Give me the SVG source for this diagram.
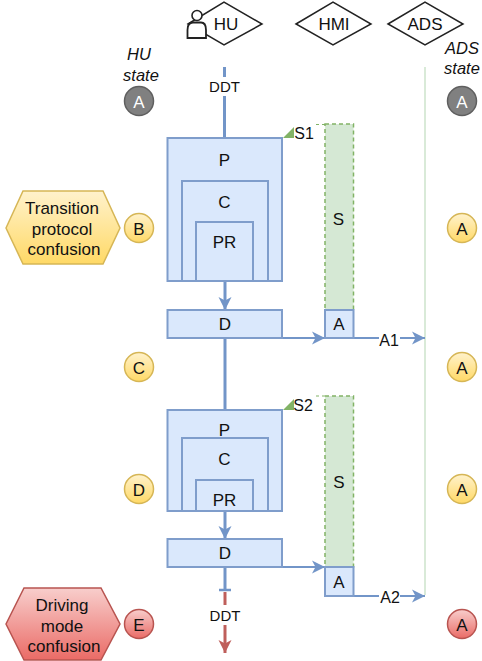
<svg xmlns="http://www.w3.org/2000/svg" width="482" height="661" viewBox="0 0 482 661">
<defs>
<linearGradient id="gy" x1="0" y1="0" x2="0" y2="1"><stop offset="0" stop-color="#fff2cc"/><stop offset="1" stop-color="#ffd966"/></linearGradient>
<linearGradient id="gr" x1="0" y1="0" x2="0" y2="1"><stop offset="0" stop-color="#f8cecc"/><stop offset="1" stop-color="#ea6b66"/></linearGradient>
<marker id="ab" markerUnits="userSpaceOnUse" markerWidth="14" markerHeight="14" refX="13" refY="7" orient="auto"><path d="M0,0.500 L13,7 L0,13.500 L3.500,7 Z" fill="#7295c8"/></marker>
<marker id="ar" markerUnits="userSpaceOnUse" markerWidth="14" markerHeight="14" refX="13" refY="7" orient="auto"><path d="M0,0.500 L13,7 L0,13.500 L3.500,7 Z" fill="#bf5f5b"/></marker>
</defs>
<style>
text{font-family:"Liberation Sans",Arial,sans-serif;font-size:17px;fill:#111;text-anchor:middle;dominant-baseline:central}
.d{fill:#fff;stroke:#222;stroke-width:1.5}
.b{fill:#dae8fc;stroke:#7f9dcb;stroke-width:2}
.s{fill:#d5e8d4;stroke:#82b366;stroke-width:1.5;stroke-dasharray:4 3}
.c{fill:none;stroke:#7295c8}
.y{fill:url(#gy);stroke:#d6b656;stroke-width:1.5}
.r{fill:url(#gr);stroke:#b85450;stroke-width:1.5}
.g{fill:#808080;stroke:#5f5f5f;stroke-width:1.5}
.i{font-style:italic;font-size:16.5px}
.l{font-size:15px}
.bg{fill:#fff;stroke:none}
</style>
<g id="connectors">
<path d="M425 67V595" fill="none" stroke="#d5e8d4" stroke-width="1.8"/>
<path class="c" stroke-width="3" d="M224.500 67V138"/>
<path class="c" stroke-width="3" d="M225 281V310" marker-end="url(#ab)"/>
<path class="c" stroke-width="3" d="M225 338V410"/>
<path class="c" stroke-width="3" d="M225 511V539" marker-end="url(#ab)"/>
<path class="c" stroke-width="3" d="M225 567V590"/>
<path class="c" stroke-width="2.500" d="M219 590H231"/>
<path d="M225 592V653" fill="none" stroke="#bf5f5b" stroke-width="3" marker-end="url(#ar)"/>
<path class="c" stroke-width="1.800" d="M282 338H325" marker-end="url(#ab)"/>
<path class="c" stroke-width="1.800" d="M353 338H425" marker-end="url(#ab)"/>
<path class="c" stroke-width="1.800" d="M282 567H325" marker-end="url(#ab)"/>
<path class="c" stroke-width="1.800" d="M353 596H425" marker-end="url(#ab)"/>
<path d="M283 138L294 127V138Z" fill="#82b366"/>
<path d="M283 410L294 399V410Z" fill="#82b366"/>
<path d="M325 124.500H315" fill="none" stroke="#82b366" stroke-width="1" stroke-dasharray="3 3"/>
<path d="M325 396H315" fill="none" stroke="#82b366" stroke-width="1" stroke-dasharray="3 3"/>
<rect class="bg" x="207" y="77" width="35" height="19"/><text class="l" x="224.500" y="86">DDT</text>
<rect class="bg" x="207" y="605" width="35" height="20"/><text class="l" x="225" y="615">DDT</text>
<rect class="bg" x="379" y="331" width="21" height="15"/><text x="389" y="340" style="font-size:16px">A1</text>
<rect class="bg" x="379" y="589" width="21" height="15"/><text x="390" y="597" style="font-size:16px">A2</text>
<text x="304" y="133" style="font-size:16px">S1</text>
<text x="303" y="405" style="font-size:16px">S2</text>
</g>
<g id="hu"><path class="d" d="M188 24L224 2L262 24L224 45Z"/><text x="226" y="24">HU</text>
<path d="M187.500 38V30Q187.500 22.500 193 22.500H201Q206 22.500 206 30V38Z" fill="#fff" stroke="#222" stroke-width="1.800"/><circle cx="197" cy="15.500" r="5" fill="#fff" stroke="#222" stroke-width="1.600"/></g>
<g id="hmi"><path class="d" d="M296 24L333 2L371 24L333 45Z"/><text x="334" y="24">HMI</text></g>
<g id="ads"><path class="d" d="M388 24L425 2L463 24L425 45Z"/><text x="425" y="24">ADS</text></g>
<g id="hu-state"><text class="i" x="139" y="54">HU</text><text class="i" x="141" y="75">state</text></g>
<g id="ads-state"><text class="i" x="462" y="48">ADS</text><text class="i" x="462" y="68">state</text></g>
<g id="s1"><rect class="s" x="325" y="124" width="28.500" height="186"/><text x="338.500" y="219">S</text></g>
<g id="a1"><rect class="b" x="325" y="310" width="28.500" height="28"/><text x="339" y="324">A</text></g>
<g id="s2"><rect class="s" x="325" y="396" width="28.500" height="171"/><text x="339" y="482">S</text></g>
<g id="a2"><rect class="b" x="325" y="567" width="28.500" height="29"/><text x="339" y="582">A</text></g>
<g id="p1"><rect class="b" x="167.500" y="138" width="114.500" height="143"/><text x="224.500" y="160">P</text></g>
<g id="c1"><rect class="b" x="182" y="181" width="86" height="100"/><text x="224.500" y="202">C</text></g>
<g id="pr1"><rect class="b" x="196" y="222" width="57" height="59"/><text x="224.500" y="242">PR</text></g>
<g id="d1"><rect class="b" x="167.500" y="310" width="114.500" height="28"/><text x="225" y="324">D</text></g>
<g id="p2"><rect class="b" x="167.500" y="410" width="114.500" height="101"/><text x="224.500" y="430">P</text></g>
<g id="c2"><rect class="b" x="182" y="438" width="86" height="73"/><text x="224.500" y="459">C</text></g>
<g id="pr2"><rect class="b" x="196" y="480" width="57" height="31"/><text x="224.500" y="500">PR</text></g>
<g id="d2"><rect class="b" x="167.500" y="539" width="114.500" height="28"/><text x="225" y="553">D</text></g>
<g id="transition"><path class="y" d="M6 228L23 191H103L120 228L103 264H23Z"/><text x="62" y="208">Transition</text><text x="62" y="229">protocol</text><text x="64" y="249">confusion</text></g>
<g id="driving"><path class="r" d="M6 624L24 588H101L120 624L101 660H24Z"/><text x="62" y="605">Driving</text><text x="62" y="626">mode</text><text x="64" y="646">confusion</text></g>
<g id="state-hu-a"><circle class="g" cx="139" cy="101" r="14.500"/><text x="139" y="102" style="fill:#fff">A</text></g>
<g id="state-ads-a"><circle class="g" cx="462" cy="101" r="14.500"/><text x="462" y="102" style="fill:#fff">A</text></g>
<g id="state-b"><circle class="y" cx="139" cy="228" r="14.500"/><text x="139" y="229">B</text></g>
<g id="state-c"><circle class="y" cx="139" cy="367" r="14.500"/><text x="139" y="368">C</text></g>
<g id="state-d"><circle class="y" cx="139" cy="489" r="14.500"/><text x="139" y="490">D</text></g>
<g id="state-e"><circle class="r" cx="139" cy="624" r="14.500"/><text x="139" y="625">E</text></g>
<g id="ads-a1"><circle class="y" cx="462" cy="228" r="14.500"/><text x="462" y="229">A</text></g>
<g id="ads-a2"><circle class="y" cx="462" cy="367" r="14.500"/><text x="462" y="368">A</text></g>
<g id="ads-a3"><circle class="y" cx="462" cy="489" r="14.500"/><text x="462" y="490">A</text></g>
<g id="ads-a4"><circle class="r" cx="462" cy="624" r="14.500"/><text x="462" y="625">A</text></g>
</svg>
